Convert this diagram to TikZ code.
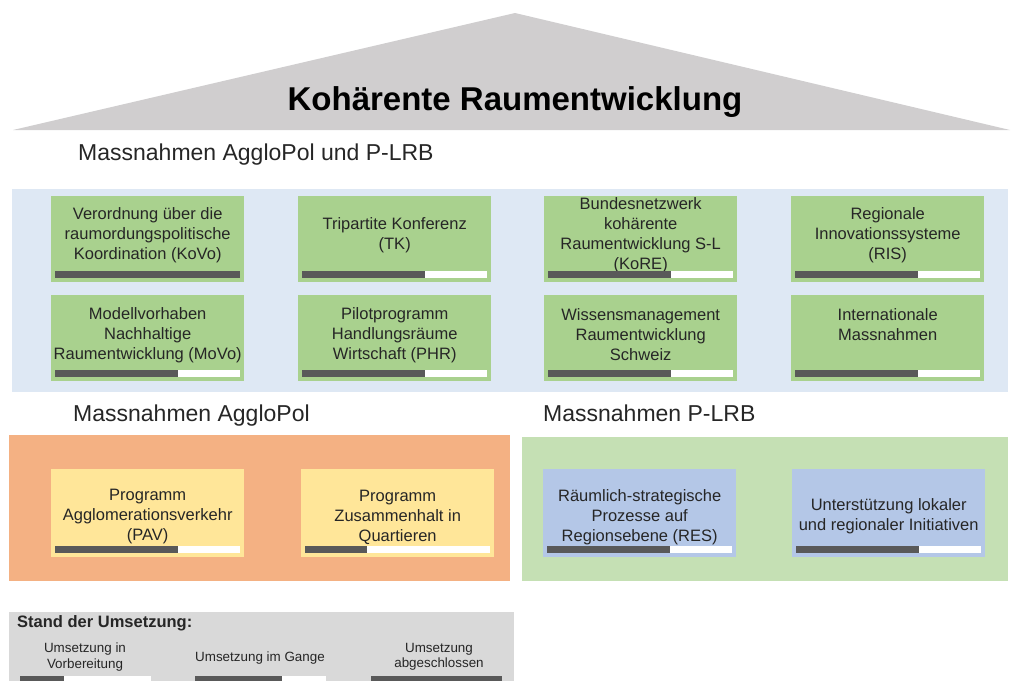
\documentclass[tikz,border=0pt]{standalone}
\usepackage{fontspec}
\setmainfont{Liberation Sans}
\usetikzlibrary{positioning, calc}
\definecolor{roofgray}{HTML}{D0CECF}
\definecolor{panelblue}{HTML}{DEE8F4}
\definecolor{boxgreen}{HTML}{A9D18E}
\definecolor{panelorange}{HTML}{F4B183}
\definecolor{boxyellow}{HTML}{FFE699}
\definecolor{panelgreen}{HTML}{C5E0B4}
\definecolor{boxblue}{HTML}{B4C7E7}
\definecolor{legendgray}{HTML}{D9D9D9}
\definecolor{bardark}{HTML}{595959}
\definecolor{txtgray}{HTML}{262626}
\tikzset{
    box/.style={anchor=north west, inner sep=0pt, minimum height=86pt, minimum width=193pt},
    txt/.style={align=center, inner sep=0pt, text=txtgray, font=\fontsize{16.5}{20}\selectfont},
    heading/.style={anchor=base west, inner sep=0pt, text=txtgray, font=\fontsize{23}{27}\selectfont},
    legtxt/.style={align=center, inner sep=0pt, text=txtgray, font=\fontsize{13.4}{15.5}\selectfont}
}
% #1 box, #2 share done
\newcommand{\progbar}[2]{
    \fill[white]($(#1.south west)+(4,-11)$) coordinate (#1bar) rectangle ++(185,7);
    \fill[bardark](#1bar) rectangle ++(#2*185,7);
}

\begin{document}
\begin{tikzpicture}[x=1pt, y=-1pt]
    \useasboundingbox (0,0) rectangle (1011,680);
    % Dach
    \fill[roofgray](13,130)--(515,13)--(1010,130)--cycle;
    \node[anchor=base, inner sep=0pt, font=\fontsize{33}{38}\selectfont\bfseries] (titel) at (515,110) {Kohärente Raumentwicklung};
    \node[heading] (hbeide) at (78,160) {Massnahmen AggloPol und P-LRB};

    % gemeinsame Massnahmen
    \fill[panelblue](12,189) rectangle (1008,392);
    \node[box, fill=boxgreen] (kovo) at (51,196) {};
    \node[box, fill=boxgreen] (tk) at (298,196) {};
    \node[box, fill=boxgreen] (kore) at (544,196) {};
    \node[box, fill=boxgreen] (ris) at (791,196) {};
    \node[box, fill=boxgreen] (movo) at (51,295) {};
    \node[box, fill=boxgreen] (phr) at (298,295) {};
    \node[box, fill=boxgreen] (wissen) at (544,295) {};
    \node[box, fill=boxgreen] (intl) at (791,295) {};
    \node[txt] (kovot) at ($(kovo.north)+(0,39)$) {Verordnung über die\\raumordungspolitische\\Koordination (KoVo)};
    \node[txt] (tkt) at ($(tk.north)+(0,39)$) {Tripartite Konferenz\\(TK)};
    \node[txt] (koret) at ($(kore.north)+(0,39)$) {Bundesnetzwerk\\kohärente\\Raumentwicklung S-L\\(KoRE)};
    \node[txt] (rist) at ($(ris.north)+(0,39)$) {Regionale\\Innovationssysteme\\(RIS)};
    \node[txt] (movot) at ($(movo.north)+(0,40)$) {Modellvorhaben\\Nachhaltige\\Raumentwicklung (MoVo)};
    \node[txt] (phrt) at ($(phr.north)+(0,40)$) {Pilotprogramm\\Handlungsräume\\Wirtschaft (PHR)};
    \node[txt] (wissent) at ($(wissen.north)+(0,40)$) {Wissensmanagement\\Raumentwicklung\\Schweiz};
    \node[txt] (intlt) at ($(intl.north)+(0,30)$) {Internationale\\Massnahmen};
    \progbar{kovo}{1}
    \foreach \b in {tk, kore, ris, movo, phr, wissen, intl}
    {
        \progbar{\b}{2/3}
    }

    % AggloPol
    \node[heading] (hagglo) at (73,421) {Massnahmen AggloPol};
    \fill[panelorange](9,435) rectangle (510,581);
    \node[box, fill=boxyellow, minimum height=88pt] (pav) at (51,469) {};
    \node[box, fill=boxyellow, minimum height=88pt] (quart) at (301,469) {};
    \node[txt] (pavt) at ($(pav.north)+(0,48)$) {Programm\\Agglomerationsverkehr\\(PAV)};
    \node[txt] (quartt) at ($(quart.north)+(0,48)$) {Programm\\Zusammenhalt in\\Quartieren};
    \progbar{pav}{2/3}
    \progbar{quart}{1/3}

    % P-LRB
    \node[heading] (hplrb) at (543,421) {Massnahmen P-LRB};
    \fill[panelgreen](522,437) rectangle (1008,581);
    \node[box, fill=boxblue, minimum height=88pt] (res) at (543,469) {};
    \node[box, fill=boxblue, minimum height=88pt] (init) at (792,469) {};
    \node[txt] (rest) at ($(res.north)+(0,48)$) {Räumlich-strategische\\Prozesse auf\\Regionsebene (RES)};
    \node[txt] (initt) at ($(init.north)+(0,47)$) {Unterstützung lokaler\\und regionaler Initiativen};
    \progbar{res}{2/3}
    \progbar{init}{2/3}

    % Legende
    \fill[legendgray](9,612) rectangle (514,690);
    \node[anchor=base west, inner sep=0pt, text=txtgray, font=\fontsize{16.5}{20}\selectfont\bfseries] (stand) at (17,627) {Stand der Umsetzung:};
    \node[legtxt] (vorb) at (85,657) {Umsetzung in\\Vorbereitung};
    \node[legtxt] (gange) at (260,658) {Umsetzung im Gange};
    \node[legtxt] (fertig) at (439,657) {Umsetzung\\abgeschlossen};
    \foreach \x/\f in {20/1, 195/2, 371/3}
    {
        \fill[white](\x,676) rectangle ++(131,7);
        \fill[bardark](\x,676) rectangle ++(\f*131/3,7);
    }
\end{tikzpicture}
\end{document}
